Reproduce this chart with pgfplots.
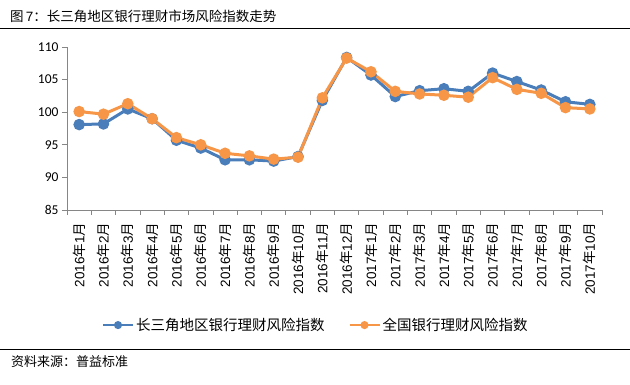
\documentclass[border=0pt]{standalone}
\usepackage{pgfplots}
\pgfplotsset{compat=1.18}
\usepackage{fontspec}
\setmainfont{Carlito}
\newfontfamily\cjk{Noto Sans CJK SC}
\newfontfamily\arialf{Liberation Sans}
\definecolor{sblue}{HTML}{4A7EBB}
\definecolor{sorange}{HTML}{F79646}
\definecolor{axgray}{HTML}{868686}
\newcommand\ym[2]{\arialf #1{\cjk 年}#2{\cjk 月}}
\begin{document}
\begin{tikzpicture}
\begin{axis}[
  at={(0pt,0pt)}, anchor=south west,
  scale only axis, width=535pt, height=163pt,
  xmin=0.5, xmax=22.5, ymin=85, ymax=110,
  ytick={85,90,...,110},
  xtick={1,...,22},
  minor xtick={0.5,1.5,...,22.5},
  major x tick style={draw=none},
  minor tick length=5pt,
  major tick length=5pt,
  tick align=outside,
  axis x line*=bottom, axis y line*=left,
  axis line style={axgray, line width=0.8pt},
  every tick/.style={axgray, line width=0.8pt},
  /pgf/number format/assume math mode=true,
  yticklabel style={font=\fontsize{13.5}{15}\selectfont, text=black},
  xticklabel style={rotate=90, anchor=east, font=\fontsize{13.5}{15}\selectfont, text=black},
  xticklabel shift=4pt,
  xticklabels={\ym{2016}{1},\ym{2016}{2},\ym{2016}{3},\ym{2016}{4},\ym{2016}{5},\ym{2016}{6},\ym{2016}{7},\ym{2016}{8},\ym{2016}{9},\ym{2016}{10},\ym{2016}{11},\ym{2016}{12},\ym{2017}{1},\ym{2017}{2},\ym{2017}{3},\ym{2017}{4},\ym{2017}{5},\ym{2017}{6},\ym{2017}{7},\ym{2017}{8},\ym{2017}{9},\ym{2017}{10}},
  legend columns=2,
  legend style={at={(0.465,-0.706)}, anchor=center, draw=none, fill=none,
    font=\cjk\fontsize{14.5}{16}\selectfont, /tikz/every even column/.append style={column sep=22pt}},
  legend image code/.code={\draw[#1, line width=2pt, mark size=3pt] plot coordinates {(0pt,0pt) (15pt,0pt) (30pt,0pt)};},
  legend cell align=left,
  clip=false,
]
\addplot[sblue, line width=3pt, mark=*, mark size=4.2pt,
  legend image post style={mark repeat=2, mark phase=2}] coordinates {
(1,98.1) (2,98.2) (3,100.5) (4,99.0) (5,95.7) (6,94.5) (7,92.7) (8,92.7) (9,92.5) (10,93.2) (11,101.8) (12,108.4) (13,105.7) (14,102.4) (15,103.3) (16,103.6) (17,103.2) (18,106.0) (19,104.7) (20,103.4) (21,101.6) (22,101.2)};
\addlegendentry{长三角地区银行理财风险指数}
\addplot[sorange, line width=3pt, mark=*, mark size=4.2pt,
  legend image post style={mark repeat=2, mark phase=2}] coordinates {
(1,100.1) (2,99.7) (3,101.3) (4,99.0) (5,96.1) (6,95.0) (7,93.7) (8,93.3) (9,92.8) (10,93.1) (11,102.2) (12,108.3) (13,106.2) (14,103.2) (15,102.8) (16,102.6) (17,102.3) (18,105.3) (19,103.5) (20,102.9) (21,100.7) (22,100.5)};
\addlegendentry{全国银行理财风险指数}
\end{axis}
\path[use as bounding box] (-67pt,-175pt) rectangle ++(630pt,385pt);
\node[anchor=west,inner sep=0pt,font=\cjk\fontsize{13.5}{15}\selectfont] at (-57pt,194pt) {图\,{\arialf 7}：长三角地区银行理财市场风险指数走势};
\draw[black, line width=1pt] (-67pt,181.5pt) -- ++(630pt,0pt);
\draw[black, line width=1pt] (-67pt,-139.5pt) -- ++(630pt,0pt);
\node[anchor=west,inner sep=0pt,font=\cjk\fontsize{13}{15}\selectfont] at (-56pt,-152pt) {资料来源：普益标准};
\end{tikzpicture}
\end{document}
